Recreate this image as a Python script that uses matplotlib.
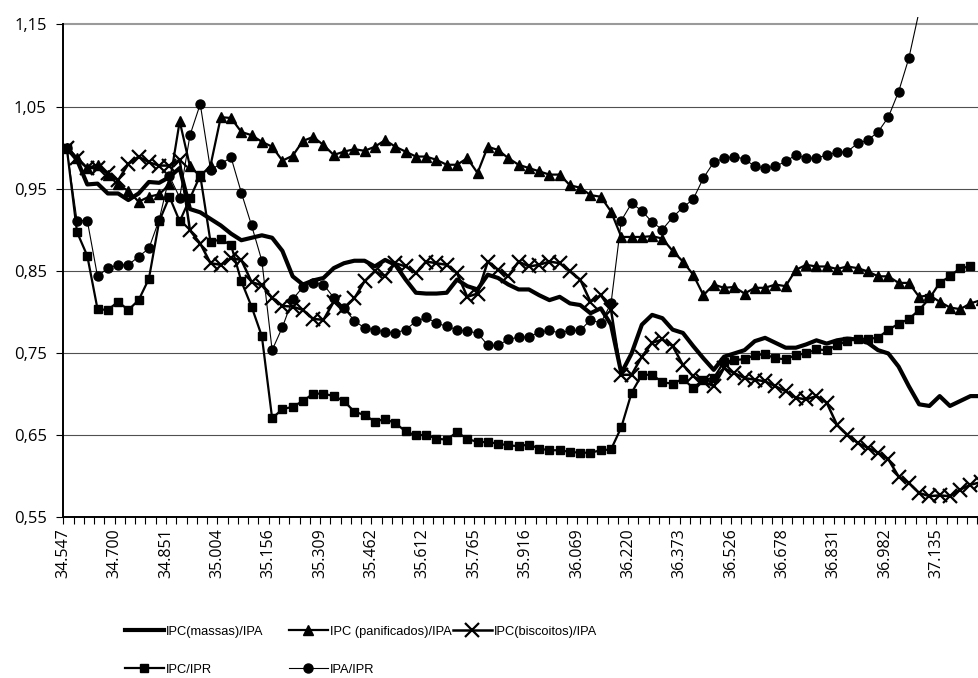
"""
Price ratios - massas, panificados, biscoitos vs IPA, and IPC/IPR, IPA/IPR
"""

import numpy as np
import matplotlib
matplotlib.use('Agg')  # Non-interactive backend
import matplotlib.pyplot as plt

# x axis: Excel date serials (1st of month), one label every 5 months, from Aug/1994
tick_labels = ["34.547", "34.700", "34.851", "35.004", "35.156", "35.309",
               "35.462", "35.612", "35.765", "35.916", "36.069", "36.220",
               "36.373", "36.526", "36.678", "36.831", "36.982", "37.135"]
y_ticks = [0.55, 0.65, 0.75, 0.85, 0.95, 1.05, 1.15]
y_tick_labels = ["0,55", "0,65", "0,75", "0,85", "0,95", "1,05", "1,15"]

series_names = ["IPC(massas)/IPA", "IPC (panificados)/IPA", "IPC(biscoitos)/IPA",
                "IPC/IPR", "IPA/IPR"]

# monthly values
massas = [1.000, 0.985, 0.955, 0.956, 0.944, 0.944, 0.936, 0.944, 0.958, 0.957,
          0.964, 0.975, 0.925, 0.921, 0.913, 0.905, 0.895, 0.887, 0.890, 0.893,
          0.890, 0.874, 0.843, 0.833, 0.838, 0.841, 0.853, 0.859, 0.862, 0.862,
          0.855, 0.863, 0.857, 0.839, 0.823, 0.822, 0.822, 0.823, 0.839, 0.831,
          0.827, 0.845, 0.841, 0.833, 0.827, 0.827, 0.820, 0.814, 0.818, 0.810,
          0.808, 0.798, 0.804, 0.784, 0.725, 0.749, 0.784, 0.796, 0.792, 0.778,
          0.774, 0.758, 0.743, 0.729, 0.745, 0.749, 0.753, 0.764, 0.768, 0.762,
          0.756, 0.756, 0.760, 0.765, 0.761, 0.765, 0.767, 0.766, 0.762, 0.753,
          0.749, 0.733, 0.709, 0.687, 0.685, 0.697, 0.685, 0.691, 0.697, 0.697]

panificados = [1.000, 0.987, 0.975, 0.979, 0.967, 0.955, 0.947, 0.934, 0.940, 0.943,
               0.955, 1.032, 0.977, 0.965, 0.978, 1.037, 1.036, 1.019, 1.015, 1.007,
               1.001, 0.984, 0.990, 1.008, 1.013, 1.003, 0.991, 0.995, 0.998, 0.996,
               1.001, 1.009, 1.001, 0.995, 0.989, 0.989, 0.985, 0.979, 0.979, 0.987,
               0.969, 1.001, 0.997, 0.987, 0.979, 0.975, 0.971, 0.967, 0.967, 0.954,
               0.951, 0.942, 0.940, 0.922, 0.891, 0.891, 0.891, 0.892, 0.889, 0.874,
               0.861, 0.845, 0.820, 0.833, 0.829, 0.830, 0.822, 0.829, 0.829, 0.833,
               0.831, 0.851, 0.857, 0.855, 0.855, 0.852, 0.855, 0.853, 0.849, 0.843,
               0.843, 0.835, 0.835, 0.818, 0.820, 0.812, 0.805, 0.803, 0.810, 0.814]

biscoitos = [1.000, 0.987, 0.975, 0.975, 0.969, 0.960, 0.980, 0.989, 0.982, 0.978,
             0.978, 0.985, 0.899, 0.883, 0.859, 0.857, 0.865, 0.863, 0.836, 0.832,
             0.817, 0.807, 0.806, 0.802, 0.791, 0.790, 0.812, 0.804, 0.816, 0.837,
             0.849, 0.843, 0.859, 0.855, 0.847, 0.861, 0.859, 0.857, 0.847, 0.818,
             0.822, 0.861, 0.851, 0.843, 0.861, 0.855, 0.857, 0.861, 0.859, 0.849,
             0.839, 0.812, 0.820, 0.802, 0.723, 0.723, 0.745, 0.762, 0.766, 0.758,
             0.735, 0.721, 0.715, 0.709, 0.731, 0.725, 0.719, 0.717, 0.715, 0.709,
             0.703, 0.695, 0.693, 0.697, 0.689, 0.662, 0.650, 0.640, 0.634, 0.628,
             0.620, 0.599, 0.591, 0.579, 0.575, 0.576, 0.575, 0.583, 0.589, 0.592]

ipc_ipr = [1.000, 0.897, 0.868, 0.803, 0.802, 0.812, 0.802, 0.814, 0.840, 0.910,
           0.940, 0.910, 0.938, 0.966, 0.885, 0.888, 0.881, 0.837, 0.806, 0.770,
           0.670, 0.681, 0.684, 0.691, 0.700, 0.700, 0.697, 0.691, 0.678, 0.674,
           0.666, 0.669, 0.664, 0.654, 0.649, 0.650, 0.645, 0.644, 0.653, 0.645,
           0.641, 0.641, 0.639, 0.637, 0.636, 0.638, 0.633, 0.631, 0.631, 0.629,
           0.628, 0.628, 0.631, 0.632, 0.659, 0.701, 0.723, 0.723, 0.714, 0.712,
           0.718, 0.707, 0.717, 0.719, 0.739, 0.741, 0.742, 0.747, 0.748, 0.743,
           0.742, 0.747, 0.749, 0.754, 0.753, 0.759, 0.764, 0.767, 0.767, 0.768,
           0.778, 0.785, 0.791, 0.802, 0.816, 0.835, 0.843, 0.853, 0.855]

ipa_ipr = [1.000, 0.911, 0.911, 0.843, 0.853, 0.857, 0.857, 0.867, 0.877, 0.912,
           0.965, 0.939, 1.015, 1.053, 0.973, 0.980, 0.988, 0.945, 0.905, 0.862,
           0.753, 0.781, 0.815, 0.830, 0.835, 0.833, 0.817, 0.804, 0.789, 0.780,
           0.778, 0.775, 0.774, 0.778, 0.788, 0.793, 0.786, 0.782, 0.778, 0.776,
           0.774, 0.759, 0.759, 0.766, 0.769, 0.769, 0.775, 0.777, 0.774, 0.777,
           0.777, 0.790, 0.786, 0.810, 0.911, 0.932, 0.923, 0.909, 0.900, 0.915,
           0.927, 0.937, 0.963, 0.982, 0.987, 0.989, 0.986, 0.977, 0.975, 0.977,
           0.983, 0.991, 0.987, 0.987, 0.991, 0.994, 0.995, 1.005, 1.009, 1.019,
           1.037, 1.068, 1.109, 1.166]

TICK_FONT = ['Open Sans', 'DejaVu Sans']
LEG_FONT = ['Liberation Sans', 'DejaVu Sans']

# points sit ~10 days after the first-of-month ticks
OFFSET = 0.33


def xpos(vals):
    return np.arange(len(vals)) + OFFSET


fig = plt.figure(figsize=(9.79, 6.78), dpi=100)
ax = fig.add_axes([0.0647, 0.2379, 0.9353, 0.7369])

# gridlines + grey border line at the top
for y in y_ticks[1:-1]:
    ax.axhline(y, color='#505050', lw=0.8, zorder=1)
ax.axhline(1.15, color='#9a9a9a', lw=1.5, zorder=1)

h1, = ax.plot(xpos(massas), massas, color='black', lw=3.0, zorder=3)
h2, = ax.plot(xpos(panificados), panificados, color='black', lw=1.6,
              marker='^', ms=7.5, zorder=3)
h3, = ax.plot(xpos(biscoitos), biscoitos, color='black', lw=1.8,
              marker='x', ms=9.5, mew=1.6, zorder=3)
h4, = ax.plot(xpos(ipc_ipr), ipc_ipr, color='black', lw=1.6,
              marker='s', ms=6.3, zorder=3)
h5, = ax.plot(xpos(ipa_ipr), ipa_ipr, color='black', lw=0.8,
              marker='o', ms=6.5, zorder=3)

ax.set_xlim(0, 89.16)
ax.set_ylim(0.55, 1.159)

ax.set_xticks(np.arange(0, 5 * len(tick_labels), 5))
ax.set_xticklabels(tick_labels, rotation=90, family=TICK_FONT, fontsize=11.5)
ax.set_xticks(np.arange(0, 90), minor=True)
ax.set_yticks(y_ticks)
ax.set_yticklabels(y_tick_labels, family=TICK_FONT, fontsize=12)

ax.tick_params(axis='x', which='both', direction='out', length=5, width=0.8, pad=3)
ax.tick_params(axis='y', direction='out', length=5, width=0.8, pad=7)

for s in ['top', 'right']:
    ax.spines[s].set_visible(False)
ax.spines['left'].set_bounds(0.55, 1.15)
ax.spines['left'].set_linewidth(1.4)
ax.spines['bottom'].set_linewidth(1.4)

# legend, Excel style fixed columns
entries = [(h1, series_names[0], 0.1277, 0.0683),
           (h2, series_names[1], 0.2952, 0.0683),
           (h3, series_names[2], 0.4627, 0.0683),
           (h4, series_names[3], 0.1277, 0.0118),
           (h5, series_names[4], 0.2952, 0.0118)]
for h, lab, lx, ly in entries:
    fig.legend([h], [lab], loc='center left', bbox_to_anchor=(lx, ly),
               frameon=False, borderpad=0, borderaxespad=0, numpoints=1,
               handlelength=3.0, handletextpad=0.15,
               prop={'family': LEG_FONT, 'size': 9.3})

plt.savefig('out.png', dpi=100)
plt.close()
